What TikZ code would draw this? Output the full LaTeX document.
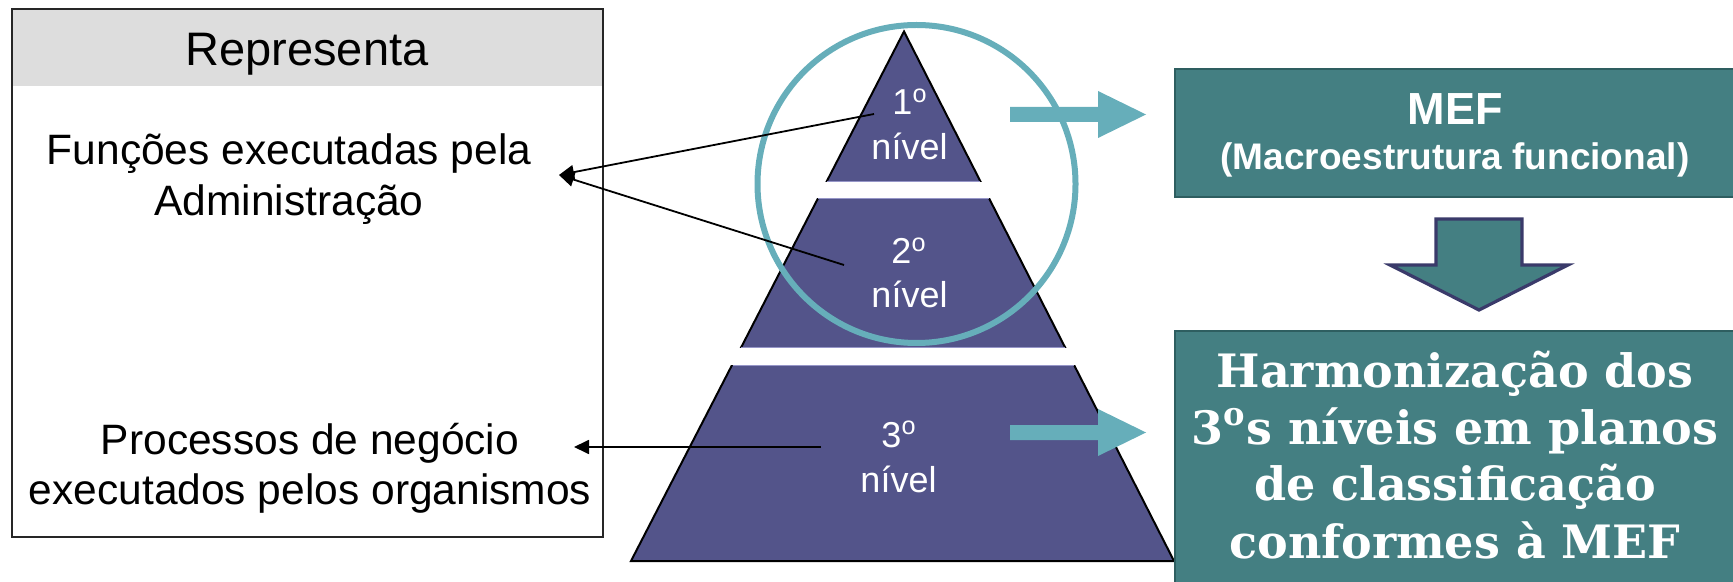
\documentclass[tikz,border=0pt]{standalone}
\usepackage{fontspec}
\setmainfont{Liberation Sans}
\newfontfamily\slabfont{DejaVu Serif}
\usetikzlibrary{arrows.meta}

\definecolor{headgray}{RGB}{221,221,221}
\definecolor{pyrfill}{RGB}{83,84,138}
\definecolor{pyrlight}{RGB}{150,150,200}
\definecolor{ringcol}{RGB}{102,174,186}
\definecolor{tealfill}{RGB}{68,127,130}
\definecolor{tealedge}{RGB}{46,94,96}
\definecolor{navyedge}{RGB}{58,58,106}

\tikzset{
  panelline/.style={draw=black!85, line width=1pt},
  lefttxt/.style={anchor=base, inner sep=0pt, text=black, font=\fontsize{21.25}{25}\selectfont},
  headtxt/.style={anchor=base, inner sep=0pt, text=black, font=\fontsize{23.5}{28}\selectfont},
  pyrtxt/.style={anchor=base, inner sep=0pt, text=white, font=\fontsize{18}{21}\selectfont},
  tealbox/.style={anchor=north west, fill=tealfill, draw=tealedge, line width=1pt, inner sep=0pt},
  meftitle/.style={anchor=base, inner sep=0pt, text=white, font=\bfseries\fontsize{22.5}{27}\selectfont},
  mefsub/.style={anchor=base, inner sep=0pt, text=white, font=\bfseries\fontsize{18.5}{22}\selectfont},
  slabtxt/.style={anchor=base, inner sep=0pt, text=white, font=\slabfont\bfseries\fontsize{23}{28}\selectfont},
  fatarrow/.style={fill=ringcol},
  ring/.style={draw=ringcol, line width=3pt},
  bandedge/.style={draw=pyrlight, line width=0.6pt},
  conn/.style={draw=black, line width=0.9pt, -{Triangle[length=7.5pt,width=7pt]}},
}

\begin{document}
\begin{tikzpicture}[x=0.5pt,y=-0.5pt]
\useasboundingbox (0,0) rectangle (1733,582);

% left panel with grey header
\fill[headgray] (12,9) rectangle (603,86);
\draw[panelline] (12,9) rectangle (603,537);
\node[headtxt] (rep) at (307,66) {Representa};
\node[lefttxt] (fun1) at (289,165) {Funções executadas pela};
\node[lefttxt] (fun2) at (289,216) {Administração};
\node[lefttxt] (proc1) at (310,454) {Processos de negócio};
\node[lefttxt] (proc2) at (310,504) {executados pelos organismos};

% pyramid: one triangle cut into three levels by white bands
\filldraw[fill=pyrfill, draw=black, line width=1pt] (904,31.5) -- (1174,561) -- (631,561) -- cycle;
\fill[white] (812,182) rectangle (998,198.5);
\fill[white] (722,348) rectangle (1088,365);
% light rims along the cuts
\draw[bandedge] (826.8,181.6) -- (980.3,181.6);
\draw[bandedge] (818.4,198.9) -- (988.8,198.9);
\draw[bandedge] (741.2,347.6) -- (1065.0,347.6);
\draw[bandedge] (732.5,365.4) -- (1073.7,365.4);

% ring round the two upper levels
\draw[ring] (916.5,184) circle[radius=79.5pt];

% level labels
\node[pyrtxt] (n1a) at (910,115) {1\textsuperscript{o}};
\node[pyrtxt] (n1b) at (909.5,160) {nível};
\node[pyrtxt] (n2a) at (909,264) {2\textsuperscript{o}};
\node[pyrtxt] (n2b) at (909.5,308) {nível};
\node[pyrtxt] (n3a) at (899,447) {3\textsuperscript{o}};
\node[pyrtxt] (n3b) at (898.5,492) {nível};

% block arrows towards the boxes
\fill[fatarrow] (1010,107) -- (1098,107) -- (1098,91) -- (1146,114.5) -- (1098,138) -- (1098,122) -- (1010,122) -- cycle;
\fill[fatarrow] (1010,425) -- (1098,425) -- (1098,409) -- (1146,432.5) -- (1098,456) -- (1098,440) -- (1010,440) -- cycle;

% MEF box
\node[tealbox, minimum width=281.5pt, minimum height=64pt] (mef) at (1174,68) {};
\node[meftitle] (meft) at (1455,125) {MEF};
\node[mefsub] (mefs) at (1455,170) {(Macroestrutura funcional)};

% down arrow between the boxes
\filldraw[fill=tealfill, draw=navyedge, line width=1.6pt, line join=miter]
  (1436,219) -- (1522,219) -- (1522,265) -- (1568,265) -- (1479,310) -- (1390,265) -- (1436,265) -- cycle;

% harmonisation box
\node[tealbox, minimum width=281.5pt, minimum height=140pt] (harm) at (1174,330) {};
\node[slabtxt] (h1) at (1455,387) {Harmonização dos};
\node[slabtxt] (h2) at (1455,444) {3\textsuperscript{o}s níveis em planos};
\node[slabtxt] (h3) at (1455,500) {de classificação};
\node[slabtxt] (h4) at (1455,558) {conformes à MEF};

% leader lines from the levels to the descriptions
\coordinate (tipf) at (559,175);
\coordinate (tipp) at (574,447);
\coordinate (from1) at (874,114);
\coordinate (from2) at (844,265);
\coordinate (from3) at (821,447);
\draw[conn] (from1) -- (tipf);
\draw[conn] (from2) -- (tipf);
\draw[conn] (from3) -- (tipp);
\end{tikzpicture}
\end{document}
